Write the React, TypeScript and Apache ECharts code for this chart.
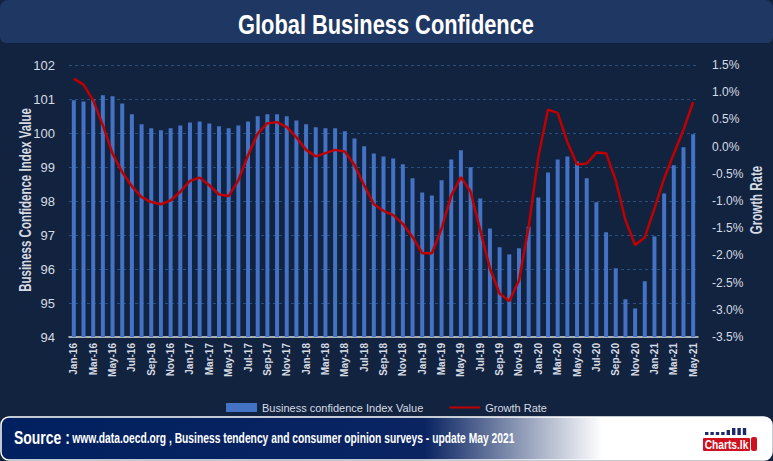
import React, { useEffect, useRef } from "react";
import * as echarts from "echarts";

const months = [
  "Jan-16","Feb-16","Mar-16","Apr-16","May-16","Jun-16","Jul-16","Aug-16","Sep-16","Oct-16","Nov-16","Dec-16",
  "Jan-17","Feb-17","Mar-17","Apr-17","May-17","Jun-17","Jul-17","Aug-17","Sep-17","Oct-17","Nov-17","Dec-17",
  "Jan-18","Feb-18","Mar-18","Apr-18","May-18","Jun-18","Jul-18","Aug-18","Sep-18","Oct-18","Nov-18","Dec-18",
  "Jan-19","Feb-19","Mar-19","Apr-19","May-19","Jun-19","Jul-19","Aug-19","Sep-19","Oct-19","Nov-19","Dec-19",
  "Jan-20","Feb-20","Mar-20","Apr-20","May-20","Jun-20","Jul-20","Aug-20","Sep-20","Oct-20","Nov-20","Dec-20",
  "Jan-21","Feb-21","Mar-21","Apr-21","May-21",
];

const confidenceIndex = [
  100.96, 100.93, 100.99, 101.11, 101.08, 100.87, 100.55, 100.26, 100.14, 100.08, 100.14, 100.22,
  100.31, 100.34, 100.28, 100.2, 100.14, 100.22, 100.34, 100.49, 100.55, 100.55, 100.49, 100.37,
  100.26, 100.17, 100.14, 100.14, 100.05, 99.84, 99.61, 99.4, 99.31, 99.25, 99.08, 98.67,
  98.25, 98.16, 98.61, 99.22, 99.49, 98.99, 98.07, 97.19, 96.64, 96.43, 96.61, 97.25,
  98.1, 98.84, 99.22, 99.31, 99.16, 98.67, 97.96, 97.08, 96.02, 95.11, 94.84, 95.64,
  96.96, 98.22, 99.05, 99.58, 99.96,
];

const growthRate = [
  1.25, 1.14, 0.85, 0.39, -0.13, -0.47, -0.73, -0.93, -1.02, -1.06, -0.99, -0.83,
  -0.63, -0.57, -0.71, -0.88, -0.91, -0.62, -0.16, 0.24, 0.43, 0.45, 0.36, 0.17,
  -0.06, -0.18, -0.12, -0.06, -0.09, -0.34, -0.71, -1.06, -1.18, -1.26, -1.42, -1.66,
  -1.96, -1.96, -1.51, -0.9, -0.56, -0.83, -1.54, -2.24, -2.7, -2.84, -2.46, -1.48,
  -0.19, 0.68, 0.62, 0.08, -0.33, -0.31, -0.11, -0.12, -0.62, -1.35, -1.81, -1.67,
  -1.14, -0.59, -0.13, 0.31, 0.82,
];

const logoBars = [3, 3, 3, 3, 5, 7, 7, 7];

const FONT = '"Liberation Sans", Arial, sans-serif';
const LABEL = "#d6dbe3";

export default function App() {
  const ref = useRef<HTMLDivElement>(null);
  useEffect(() => {
    if (!ref.current) return;
    const chart = echarts.init(ref.current, null, { renderer: "svg" });
    const logo: any[] = logoBars.map((h, i) => ({
      type: "rect",
      shape: { x: 705 + i * 5.4, y: 435 - h, width: 3.4, height: h },
      style: { fill: "#1b2a6b" },
      z: 3,
    }));
    chart.setOption({
      animation: false,
      backgroundColor: "#12233f",
      textStyle: { fontFamily: FONT },
      graphic: [
        { type: "rect", shape: { x: 0, y: 0, width: 773, height: 43, r: [8, 8, 6, 6] }, style: { fill: "#1f3763" }, z: 0 },
        {
          type: "text", x: 386, y: 24, scaleX: 0.78,
          style: { text: "Global Business Confidence", fill: "#ffffff", font: `bold 28px ${FONT}`, align: "center", verticalAlign: "middle" },
          z: 1,
        },
        {
          type: "text", x: 25, y: 200, rotation: Math.PI / 2, scaleX: 0.72,
          style: { text: "Business Confidence Index Value", fill: LABEL, font: `bold 16px ${FONT}`, align: "center", verticalAlign: "middle" },
          z: 1,
        },
        {
          type: "text", x: 756, y: 200, rotation: Math.PI / 2, scaleX: 0.72,
          style: { text: "Growth Rate", fill: LABEL, font: `bold 16px ${FONT}`, align: "center", verticalAlign: "middle" },
          z: 1,
        },
        {
          type: "rect", shape: { x: 1, y: 417, width: 771, height: 43, r: 8 },
          style: {
            fill: new echarts.graphic.LinearGradient(0, 0, 1, 0, [
              { offset: 0, color: "#01205f" },
              { offset: 0.55, color: "#0a2462" },
              { offset: 0.78, color: "#ffffff" },
              { offset: 1, color: "#ffffff" },
            ]),
            stroke: "#ffffff", lineWidth: 1.5,
          },
          z: 1,
        },
        {
          type: "text", x: 14, y: 438, scaleX: 0.735,
          style: {
            text: "{a|Source :} {b|www.data.oecd.org , Business tendency and consumer opinion surveys - update May 2021}",
            verticalAlign: "middle",
            rich: {
              a: { fill: "#ffffff", font: `bold 19px ${FONT}` },
              b: { fill: "#ffffff", font: `bold 14px ${FONT}` },
            },
          },
          z: 2,
        },
        { type: "rect", shape: { x: 703, y: 438, width: 47, height: 13, r: 1 }, style: { fill: "#d0101e" }, z: 3 },
        {
          type: "text", x: 726.5, y: 445, scaleX: 0.85,
          style: { text: "Charts.lk", fill: "#ffffff", font: `bold 12px ${FONT}`, align: "center", verticalAlign: "middle" },
          z: 4,
        },
        { type: "rect", shape: { x: 751, y: 437, width: 6, height: 14, r: 2 }, style: { fill: "#d0101e" }, z: 3 },
        ...logo,
      ],
      grid: { left: 69, right: 75, top: 65, bottom: 124, containLabel: false },
      legend: {
        top: 397, left: "center",
        itemWidth: 31, itemHeight: 9, itemGap: 26,
        textStyle: { color: LABEL, fontSize: 11, fontFamily: FONT },
        data: [
          { name: "Business confidence Index Value", icon: "rect" },
          { name: "Growth Rate", icon: "path://M0 0H31V2H0Z" },
        ],
      },
      xAxis: {
        type: "category",
        data: months,
        axisLine: { onZero: false, lineStyle: { color: "#d9d9d9", width: 1.5 } },
        axisTick: { show: false },
        axisLabel: { rotate: 90, interval: 1, color: LABEL, fontSize: 10, fontFamily: FONT, fontWeight: "bold", margin: 6 },
      },
      yAxis: [
        {
          type: "value", min: 94, max: 102, interval: 1,
          axisLabel: { color: LABEL, fontSize: 13, fontFamily: FONT, margin: 14 },
          axisLine: { show: false }, axisTick: { show: false },
          splitLine: { lineStyle: { color: "#27507e", type: [3, 3], width: 1 } },
        },
        {
          type: "value", min: -3.5, max: 1.5, interval: 0.5,
          axisLabel: { color: LABEL, fontSize: 12, fontFamily: FONT, margin: 14, formatter: (v: number) => v.toFixed(1) + "%" },
          axisLine: { show: false }, axisTick: { show: false },
          splitLine: { show: false },
        },
      ],
      series: [
        {
          name: "Business confidence Index Value", type: "bar", data: confidenceIndex,
          barWidth: 4, itemStyle: { color: "#4472c4" }, yAxisIndex: 0,
        },
        {
          name: "Growth Rate", type: "line", data: growthRate, yAxisIndex: 1,
          symbol: "none", lineStyle: { color: "#c00000", width: 2.5 }, itemStyle: { color: "#c00000" },
        },
      ],
    });
    return () => chart.dispose();
  }, []);
  return (
    <div style={{ position: "fixed", left: 0, top: 0, width: 773, height: 461 }}>
      <div ref={ref} style={{ width: 773, height: 461 }} />
    </div>
  );
}
